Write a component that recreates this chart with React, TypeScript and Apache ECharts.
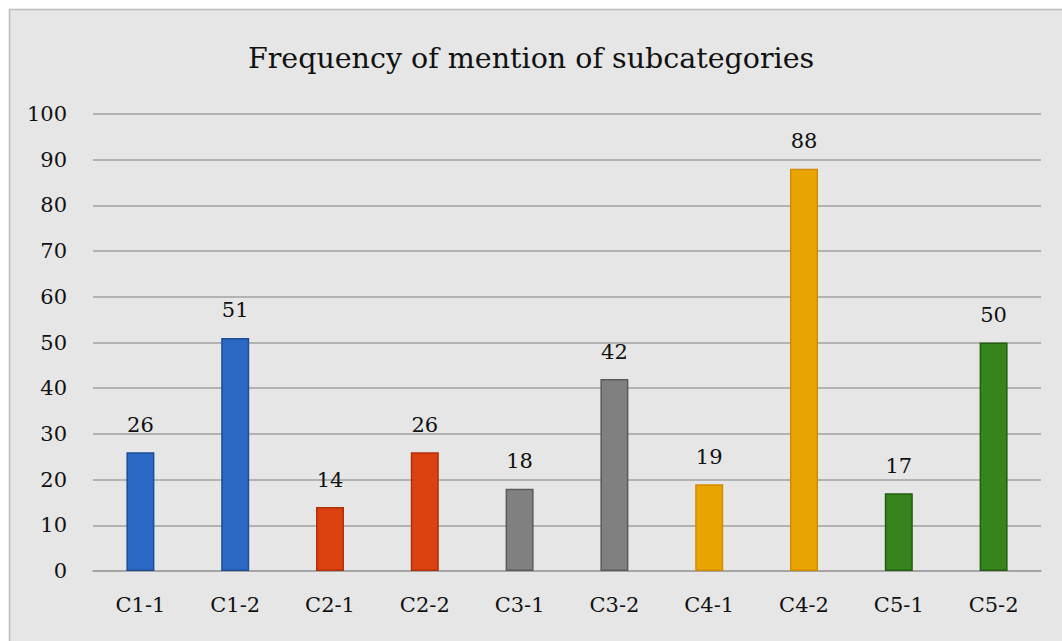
import React, { useEffect, useRef } from "react";
import * as echarts from "echarts";

const categories = ["C1-1", "C1-2", "C2-1", "C2-2", "C3-1", "C3-2", "C4-1", "C4-2", "C5-1", "C5-2"];
const values = [26, 51, 14, 26, 18, 42, 19, 88, 17, 50];
const fillColors = ["#2B69C4", "#2B69C4", "#DC4110", "#DC4110", "#808080", "#808080", "#E8A400", "#E8A400", "#36841C", "#36841C"];
const borderColors = ["#1C4E96", "#1C4E96", "#B03008", "#B03008", "#5A5A5A", "#5A5A5A", "#D08C00", "#D08C00", "#235E10", "#235E10"];
const title = "Frequency of mention of subcategories";

const FONT = "'DejaVu Serif', 'Liberation Serif', serif";

export default function App() {
  const ref = useRef<HTMLDivElement>(null);
  useEffect(() => {
    const chart = echarts.init(ref.current!, undefined, { renderer: "svg" });
    chart.setOption({
      animation: false,
      backgroundColor: "#ffffff",
      graphic: [
        {
          type: "rect",
          z: -10,
          shape: { x: 9.5, y: 9.5, width: 1070, height: 650 },
          style: { fill: "#E6E6E6", stroke: "#BDBDBD", lineWidth: 1.5 },
        },
      ],
      title: {
        text: title,
        left: "center",
        top: 39,
        textStyle: { fontFamily: FONT, fontSize: 28.5, fontWeight: "normal", color: "#111111" },
      },
      grid: { left: 93, right: 21, top: 114, bottom: 70, containLabel: false },
      xAxis: {
        type: "category",
        data: categories,
        axisLine: { show: true, lineStyle: { color: "#A0A0A0", width: 1.5 } },
        axisTick: { show: false },
        axisLabel: { fontFamily: FONT, fontSize: 21, color: "#111111", margin: 23 },
      },
      yAxis: {
        type: "value",
        min: 0,
        max: 100,
        interval: 10,
        axisLine: { show: false },
        axisTick: { show: false },
        axisLabel: { fontFamily: FONT, fontSize: 21, color: "#111111", margin: 26 },
        splitLine: { lineStyle: { color: "#A0A0A0", width: 1.5 } },
      },
      series: [
        {
          type: "bar",
          barWidth: 28,
          data: values.map((v, i) => ({
            value: v,
            itemStyle: { color: fillColors[i], borderColor: borderColors[i], borderWidth: 1.5 },
          })),
          label: {
            show: true,
            position: "top",
            distance: 17,
            fontFamily: FONT,
            fontSize: 21,
            color: "#111111",
          },
        },
      ],
    });
    return () => chart.dispose();
  }, []);
  return <div ref={ref} style={{ position: "fixed", left: 0, top: 0, width: 1062, height: 641 }} />;
}
